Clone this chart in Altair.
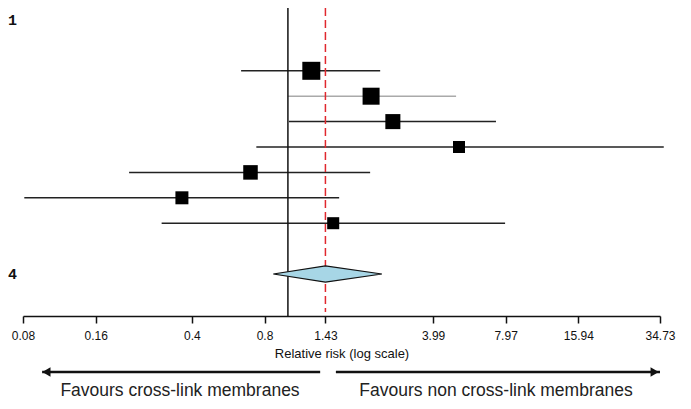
import altair as alt
import pandas as pd

# ---- data ----
rows = [2, 3, 4, 5, 6, 7, 8]
rr = [1.25, 2.21, 2.72, 5.11, 0.70, 0.364, 1.54]
lower = [0.64, 1.00, 1.01, 0.74, 0.22, 0.081, 0.30]
upper = [2.41, 4.97, 7.27, 36.0, 2.19, 1.63, 7.93]
weight = [21.5, 19.2, 15.0, 9.6, 14.0, 11.2, 9.6]

pooled_rr = 1.43
pooled_lower = 0.87
pooled_upper = 2.45
pooled_row = 10

tick_values = [0.08, 0.16, 0.4, 0.8, 1.43, 3.99, 7.97, 15.94, 34.73]
row_labels = ["1", "4"]
row_label_rows = [0, 10]

arrow_left = [1.36, 0.096]
arrow_right = [1.58, 34.73]

df = pd.DataFrame({"row": rows, "rr": rr, "lo": lower, "hi": upper, "w": weight})
df["faint"] = df["row"] == 3

xscale = alt.Scale(type="log", domain=[0.08, 34.73], range=[15, 652])
yscale = alt.Scale(domain=[0, 10], range=[12, 266], zero=False)

X = alt.X("rr:Q", scale=xscale,
          axis=alt.Axis(values=tick_values, format=".4~g", title="Relative risk (log scale)",
                        grid=False, domainColor="#111", domainWidth=1.5, tickColor="#111",
                        tickWidth=1.5, tickSize=7, labelFontSize=12, labelPadding=7,
                        labelFlush=False, labelOverlap=False,
                        labelFont="Liberation Sans", labelColor="#111",
                        titleFont="Liberation Sans", titleFontSize=13, titleFontWeight="normal",
                        titleColor="#111", titlePadding=6))
Y = alt.Y("row:Q", scale=yscale, axis=None)

ci = alt.Chart(df).mark_rule(strokeWidth=1.5).encode(
    x=alt.X("lo:Q", scale=xscale), x2="hi:Q", y=Y,
    color=alt.condition("datum.faint", alt.value("#aaaaaa"), alt.value("#222222")),
)

squares = alt.Chart(df).mark_point(shape="square", filled=True, opacity=1, color="black").encode(
    x=X, y=Y,
    size=alt.Size("w:Q", scale=alt.Scale(domain=[0, 21.5], range=[0, 324]), legend=None),
)

vdf = pd.DataFrame({"rr": [1.0]})
vline = alt.Chart(vdf).mark_rule(color="#111", strokeWidth=1.5).encode(
    x=alt.X("rr:Q", scale=xscale), y=alt.value(0), y2=alt.value(308))
rdf = pd.DataFrame({"rr": [pooled_rr]})
rline = alt.Chart(rdf).mark_rule(color="#e0282e", strokeWidth=1.5, strokeDash=[8, 4]).encode(
    x=alt.X("rr:Q", scale=xscale), y=alt.value(0), y2=alt.value(304))

ddf = pd.DataFrame({
    "rr": [pooled_lower, pooled_rr, pooled_upper],
    "top": [pooled_row, pooled_row - 0.32, pooled_row],
    "bot": [pooled_row, pooled_row + 0.32, pooled_row],
})
diamond = alt.Chart(ddf).mark_area(color="#a7d6e6", stroke="#111", strokeWidth=1.2,
                                   interpolate="linear", opacity=1).encode(
    x=alt.X("rr:Q", scale=xscale),
    y=alt.Y("top:Q", scale=yscale, axis=None), y2="bot:Q")

ldf = pd.DataFrame({"label": row_labels, "row": row_label_rows})
labels = alt.Chart(ldf).mark_text(align="left", baseline="middle", font="Liberation Mono",
                                  fontSize=15, fontWeight="bold", color="#111").encode(
    x=alt.value(0), y=Y, text="label:N")

adf = pd.DataFrame({"a": [arrow_left[0], arrow_right[0]], "b": [arrow_left[1], arrow_right[1]]})
arrows = alt.Chart(adf).mark_rule(color="#111", strokeWidth=2.5).encode(
    x=alt.X("a:Q", scale=xscale), x2="b:Q", y=alt.value(364))
hdf = pd.DataFrame({"rr": [0.1, 33.0], "shape": ["triangle-left", "triangle-right"]})
heads = alt.Chart(hdf).mark_point(filled=True, opacity=1, color="#111", size=90).encode(
    x=alt.X("rr:Q", scale=xscale), y=alt.value(364),
    shape=alt.Shape("shape:N", scale=None))

tdf = pd.DataFrame({"t": ["Favours cross-link membranes", "Favours non cross-link membranes"],
                    "px": [172, 488]})
favours = alt.Chart(tdf).mark_text(font="Liberation Sans", fontSize=17.5, color="#222",
                                   baseline="alphabetic", align="center").encode(
    x=alt.X("px:Q", scale=None), y=alt.value(388), text="t:N")

chart = alt.layer(ci, vline, rline, squares, diamond, labels, arrows, heads, favours).properties(
    width=675, height=308,
    padding={"left": 0, "top": 0, "right": 0, "bottom": 85},
    autosize=alt.AutoSizeParams(type="none"),
).configure_view(stroke=None)

chart.save("out.html", embed_options={"renderer": "svg", "actions": False})
